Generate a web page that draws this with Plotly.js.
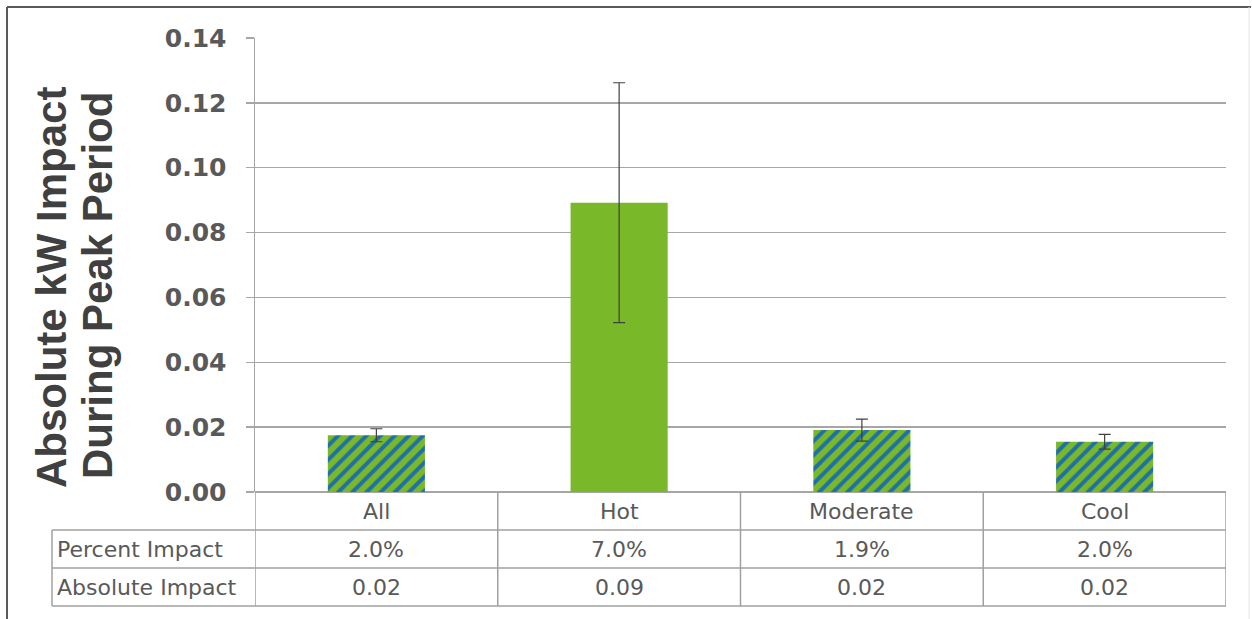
<!DOCTYPE html>
<html>
<head>
<meta charset="utf-8">
<script src="https://cdn.plot.ly/plotly-3.0.1.min.js"></script>
<style>
  html, body { margin: 0; padding: 0; background: #ffffff; }
  #chart { width: 1252px; height: 619px; }
</style>
</head>
<body>
<div id="chart"></div>
<script>
// ---- data ----
const categories = ['All', 'Hot', 'Moderate', 'Cool'];
const impactKW = [0.0175, 0.0892, 0.0191, 0.0155];
const impactErr = [0.0020, 0.0370, 0.0034, 0.0023];
const hatched = [true, false, true, true];
const rowLabels = ['Percent Impact', 'Absolute Impact'];
const percentImpact = ['2.0%', '7.0%', '1.9%', '2.0%'];
const absoluteImpact = ['0.02', '0.09', '0.02', '0.02'];
const yTitleLines = ['Absolute kW Impact', 'During Peak Period'];

// ---- layout helpers (pixels -> paper) ----
const W = 1252, H = 619;
const M = { l: 255, r: 26, t: 38, b: 127 };
const PW = W - M.l - M.r, PH = H - M.t - M.b;
const px = x => (x - M.l) / PW;
const py = y => (H - M.b - y) / PH;

const green = '#78b829';
const blue = '#1f6fa8';
const gridCol = '#a6a6a6';
const tableCol = '#a0a0a0';
const textCol = '#595959';

const trace = {
  type: 'bar',
  x: categories,
  y: impactKW,
  width: 0.4,
  marker: {
    color: green,
    line: { width: 0 },
    pattern: {
      shape: hatched.map(h => h ? '/' : ''),
      fgcolor: blue,
      bgcolor: green,
      fgopacity: 1,
      size: 10,
      solidity: 0.4,
      fillmode: 'replace'
    }
  },
  error_y: {
    type: 'data',
    array: impactErr,
    visible: true,
    color: '#404040',
    thickness: 1.2,
    width: 6
  },
  hoverinfo: 'skip'
};

const shapes = [];
const line = (x0, y0, x1, y1, xref, col, w) => shapes.push({
  type: 'line', xref: xref || 'paper', yref: 'paper',
  x0: x0, y0: y0, x1: x1, y1: y1,
  line: { color: col || tableCol, width: w || 1.5 }
});

// table vertical lines between categories
for (let i = 0; i <= categories.length; i++) {
  line(i - 0.5, py(492), i - 0.5, py(606), 'x');
}
// table left cell
line(px(52), py(530), px(52), py(606));
// table horizontal lines
[530, 568, 606].forEach(y => line(px(52), py(y), 1, py(y)));

// outer frame (left + top)
line(px(7), py(619), px(7), py(7), 'paper', '#5a5a5a', 2);
line(px(7), py(7), px(1251), py(7), 'paper', '#5a5a5a', 2);
line(px(1249), py(7), px(1249), py(619), 'paper', '#e6e6e6', 1);

const annotations = [];
const tFont = { family: 'DejaVu Sans, Arial, sans-serif', size: 22, color: textCol };
categories.forEach((c, i) => {
  annotations.push({ x: c, xref: 'x', y: py(511), yref: 'paper', text: c, showarrow: false, font: tFont, xanchor: 'center', yanchor: 'middle' });
  annotations.push({ x: c, xref: 'x', y: py(549), yref: 'paper', text: percentImpact[i], showarrow: false, font: tFont, xanchor: 'center', yanchor: 'middle' });
  annotations.push({ x: c, xref: 'x', y: py(587), yref: 'paper', text: absoluteImpact[i], showarrow: false, font: tFont, xanchor: 'center', yanchor: 'middle' });
});
annotations.push({ x: px(55), xref: 'paper', y: py(549), yref: 'paper', text: rowLabels[0], showarrow: false, font: tFont, xanchor: 'left', yanchor: 'middle' });
annotations.push({ x: px(55), xref: 'paper', y: py(587), yref: 'paper', text: rowLabels[1], showarrow: false, font: tFont, xanchor: 'left', yanchor: 'middle' });

// y-axis title (two rotated lines)
const titleFont = { family: 'Liberation Sans, Arial, sans-serif', size: 42, color: '#404040', weight: 'bold' };
annotations.push({ x: px(51), xref: 'paper', y: py(288), yref: 'paper', text: yTitleLines[0], textangle: -90, showarrow: false, font: titleFont, xanchor: 'center', yanchor: 'middle' });
annotations.push({ x: px(97), xref: 'paper', y: py(286), yref: 'paper', text: yTitleLines[1], textangle: -90, showarrow: false, font: titleFont, xanchor: 'center', yanchor: 'middle' });

const layout = {
  width: W, height: H,
  margin: M,
  paper_bgcolor: '#ffffff',
  plot_bgcolor: '#ffffff',
  showlegend: false,
  bargap: 0.6,
  xaxis: {
    type: 'category',
    range: [-0.5, 3.5],
    showticklabels: false,
    showgrid: false,
    zeroline: false,
    showline: false,
    ticks: ''
  },
  yaxis: {
    range: [0, 0.14],
    dtick: 0.02,
    tick0: 0,
    tickformat: '.2f',
    showline: true,
    linecolor: gridCol,
    linewidth: 1.5,
    ticks: 'outside',
    ticklen: 8,
    tickwidth: 1.5,
    tickcolor: gridCol,
    showgrid: true,
    gridcolor: gridCol,
    gridwidth: 1.5,
    zeroline: true,
    zerolinecolor: gridCol,
    zerolinewidth: 1.5,
    ticklabelstandoff: 14,
    tickfont: { family: 'DejaVu Sans, Arial, sans-serif', size: 25, color: textCol, weight: 'bold' }
  },
  shapes: shapes,
  annotations: annotations
};

Plotly.newPlot('chart', [trace], layout, { displayModeBar: false, staticPlot: true });
</script>
</body>
</html>
